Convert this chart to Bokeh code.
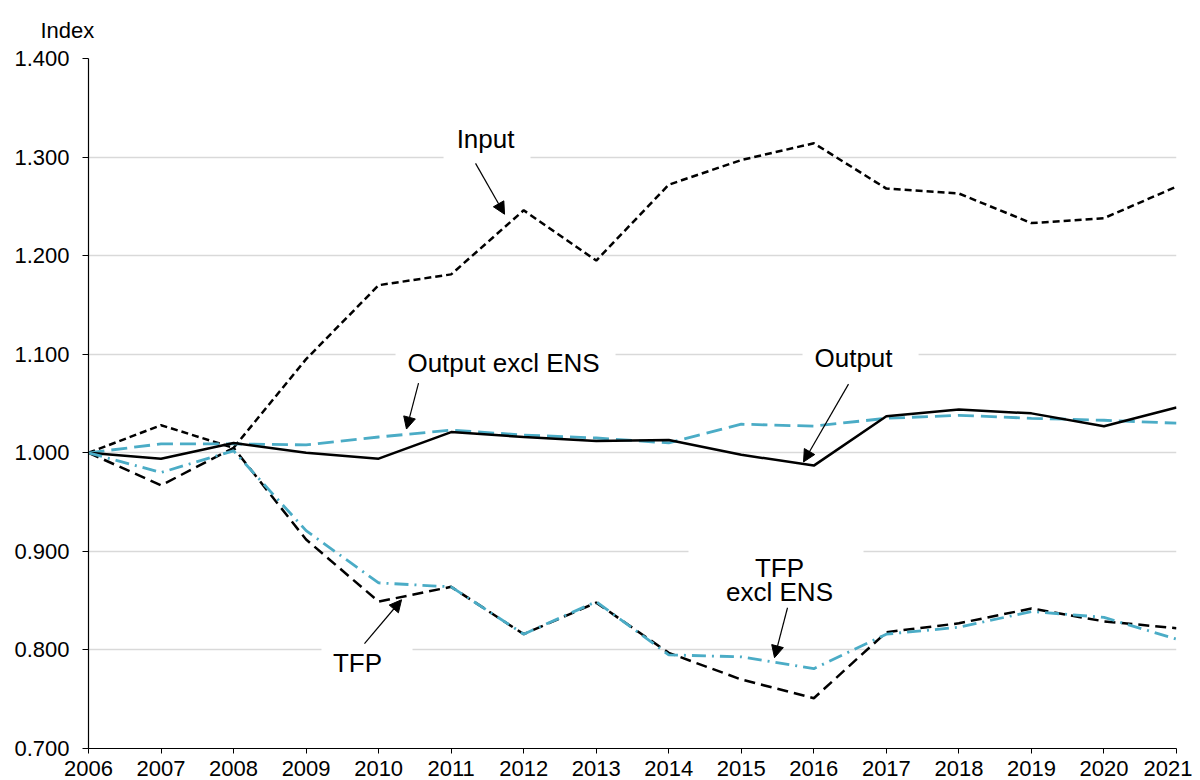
from bokeh.plotting import figure
from bokeh.models import (FixedTicker, PrintfTickFormatter, Label, Arrow, NormalHead,
                          BoxAnnotation, Range1d)
from bokeh.embed import file_html
from bokeh.resources import INLINE

years = list(range(2006, 2022))
input_idx = [1.000, 1.028, 1.005, 1.095, 1.170, 1.181, 1.246, 1.195, 1.272, 1.297,
             1.314, 1.268, 1.263, 1.233, 1.238, 1.270]
output_idx = [1.000, 0.994, 1.010, 1.000, 0.994, 1.021, 1.016, 1.012, 1.013, 0.998,
              0.987, 1.037, 1.044, 1.040, 1.027, 1.046]
output_excl = [1.000, 1.009, 1.009, 1.008, 1.016, 1.023, 1.018, 1.015, 1.010, 1.029,
               1.027, 1.035, 1.038, 1.035, 1.033, 1.030]
tfp = [1.000, 0.967, 1.005, 0.912, 0.849, 0.864, 0.816, 0.848, 0.797, 0.770,
       0.751, 0.818, 0.827, 0.842, 0.829, 0.822]
tfp_excl = [1.000, 0.980, 1.002, 0.921, 0.868, 0.864, 0.816, 0.849, 0.795, 0.793,
            0.781, 0.816, 0.823, 0.839, 0.833, 0.811]
y_ticks = [0.7, 0.8, 0.9, 1.0, 1.1, 1.2, 1.3, 1.4]

FONT = "Liberation Sans"
BLUE = "#4BACC6"

p = figure(width=1192, height=780, output_backend="svg", toolbar_location=None,
           x_range=Range1d(2006, 2021), y_range=Range1d(0.7, 1.4),
           min_border_left=88, min_border_right=16, min_border_top=57,
           min_border_bottom=32)
p.outline_line_color = None
p.background_fill_color = "white"
p.border_fill_color = "white"

p.title.text = "Index"
p.title.align = "left"
p.title.offset = -48
p.title.text_font = FONT
p.title.text_font_size = "22px"
p.title.text_font_style = "normal"
p.title.text_color = "black"
p.title.standoff = 31

p.xgrid.visible = False
p.ygrid.grid_line_color = "#d9d9d9"
p.ygrid.grid_line_width = 1.5

p.xaxis.ticker = FixedTicker(ticks=years)
p.yaxis.ticker = FixedTicker(ticks=y_ticks)
p.yaxis.formatter = PrintfTickFormatter(format="%.3f")
for ax in (p.xaxis, p.yaxis):
    ax.axis_line_color = "black"
    ax.axis_line_width = 1.2
    ax.major_tick_line_color = "black"
    ax.major_tick_in = 0
    ax.minor_tick_line_color = None
    ax.major_label_text_font = FONT
    ax.major_label_text_font_size = "22px"
    ax.major_label_text_color = "black"
p.yaxis.major_tick_out = 6
p.yaxis.major_label_standoff = 13
p.xaxis.major_tick_out = 5
p.xaxis.major_label_standoff = 7

p.line(years, input_idx, line_color="black", line_width=2.5, line_dash="7 4")
p.line(years, output_excl, line_color=BLUE, line_width=2.8, line_dash="16 7")
p.line(years, output_idx, line_color="black", line_width=2.5)
p.line(years, tfp, line_color="black", line_width=2.5, line_dash="11 6")
p.line(years, tfp_excl, line_color=BLUE, line_width=2.8, line_dash="14 6 2 6")

# white gaps in gridlines behind annotation labels
for l, r, yc in [(2010.895, 2012.094, 1.3), (2010.233, 2013.266, 1.1),
                 (2015.844, 2017.444, 1.1), (2014.272, 2016.685, 0.9),
                 (2009.212, 2010.467, 0.8)]:
    p.add_layout(BoxAnnotation(left=l, right=r, bottom=yc - 0.006, top=yc + 0.006,
                               fill_color="white", fill_alpha=1, line_color=None,
                               level="underlay"))

def lab(x, y, t, size="26px"):
    p.add_layout(Label(x=x, y=y, text=t, text_font=FONT, text_font_size=size,
                       text_align="center", text_baseline="middle", text_color="black"))

lab(2011.474, 1.3179, "Input")
lab(2011.722, 1.0910, "Output excl ENS")
lab(2016.547, 1.0961, "Output")
lab(2015.527, 0.8835, "TFP")
lab(2015.527, 0.8590, "excl ENS")
lab(2009.709, 0.7871, "TFP")

for x0, y0, x1, y1 in [(2011.336, 1.2936, 2011.736, 1.2420),
                       (2010.55, 1.0707, 2010.384, 1.0241),
                       (2016.478, 1.0697, 2015.858, 0.9907),
                       (2015.637, 0.8428, 2015.458, 0.7921),
                       (2009.805, 0.8063, 2010.316, 0.8509)]:
    p.add_layout(Arrow(x_start=x0, y_start=y0, x_end=x1, y_end=y1,
                       line_color="black", line_width=1.2,
                       end=NormalHead(size=12, fill_color="black", line_color="black")))

open("out.html", "w").write(file_html(p, INLINE))
